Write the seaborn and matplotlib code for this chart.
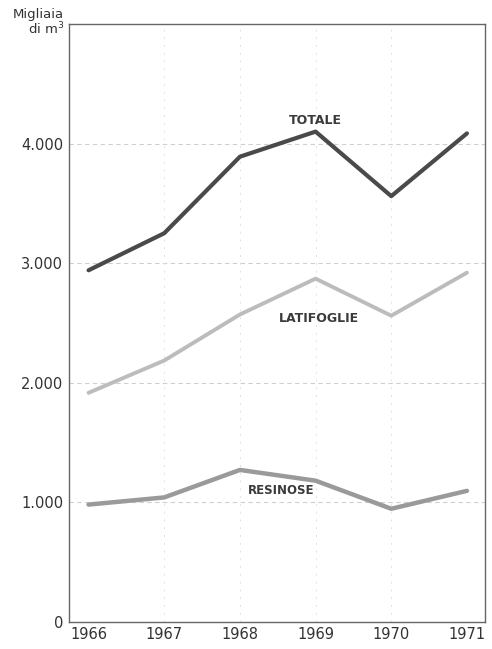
import numpy as np
import pandas as pd
import seaborn as sns
import matplotlib.pyplot as plt
from matplotlib.ticker import FuncFormatter

# dati (migliaia di m3)
anni = [1966, 1967, 1968, 1969, 1970, 1971]
totale = [2940, 3250, 3890, 4100, 3560, 4085]
latifoglie = [1915, 2185, 2570, 2870, 2560, 2920]
resinose = [980, 1040, 1270, 1180, 945, 1095]

sns.set_theme(style="white")
plt.rcParams['font.family'] = ['DejaVu Sans']

df = pd.DataFrame({'anno': anni, 'Totale': totale,
                   'Latifoglie': latifoglie, 'Resinose': resinose})

fig = plt.figure(figsize=(4.92, 6.49), dpi=100)
ax = fig.add_axes([0.140, 0.042, 0.846, 0.921])

sns.lineplot(data=df, x='anno', y='Totale', ax=ax, color='#4a4a4a', lw=3.0)
sns.lineplot(data=df, x='anno', y='Latifoglie', ax=ax, color='#bcbcbc', lw=2.8)
sns.lineplot(data=df, x='anno', y='Resinose', ax=ax, color='#9a9a9a', lw=3.2)

ax.set_xlim(1965.74, 1971.24)
ax.set_ylim(0, 5000)
ax.set_xticks(anni)
ax.set_yticks([0, 1000, 2000, 3000, 4000])
ax.yaxis.set_major_formatter(FuncFormatter(lambda v, p: f"{int(v):,}".replace(',', '.')))
ax.set_xlabel('')
ax.set_ylabel('')
ax.tick_params(axis='both', length=0, labelsize=10.5, colors='#333333', pad=4)

for y in [1000, 2000, 3000, 4000]:
    ax.axhline(y, color='#cfcfcf', lw=0.8, ls=(0, (4, 3)), zorder=0)
for x in anni[1:-1]:
    ax.axvline(x, color='#e2e2e2', lw=0.7, ls=(0, (2, 6)), zorder=0)

for s in ax.spines.values():
    s.set_color('#666666')
    s.set_linewidth(1.0)

ax.text(1969.0, 4140, 'TOTALE', ha='center', va='bottom', fontsize=9,
        fontweight='bold', color='#3a3a3a')
ax.text(1969.05, 2540, 'LATIFOGLIE', ha='center', va='center', fontsize=9,
        fontweight='bold', color='#3a3a3a')
ax.text(1968.55, 1100, 'RESINOSE', ha='center', va='center', fontsize=8.5,
        fontweight='bold', color='#3a3a3a')

fig.text(0.130, 0.978, 'Migliaia', ha='right', va='center', fontsize=9.5, color='#333333')
fig.text(0.130, 0.955, 'di m$^3$', ha='right', va='center', fontsize=9.5, color='#333333')

plt.savefig('out.png', dpi=100)
